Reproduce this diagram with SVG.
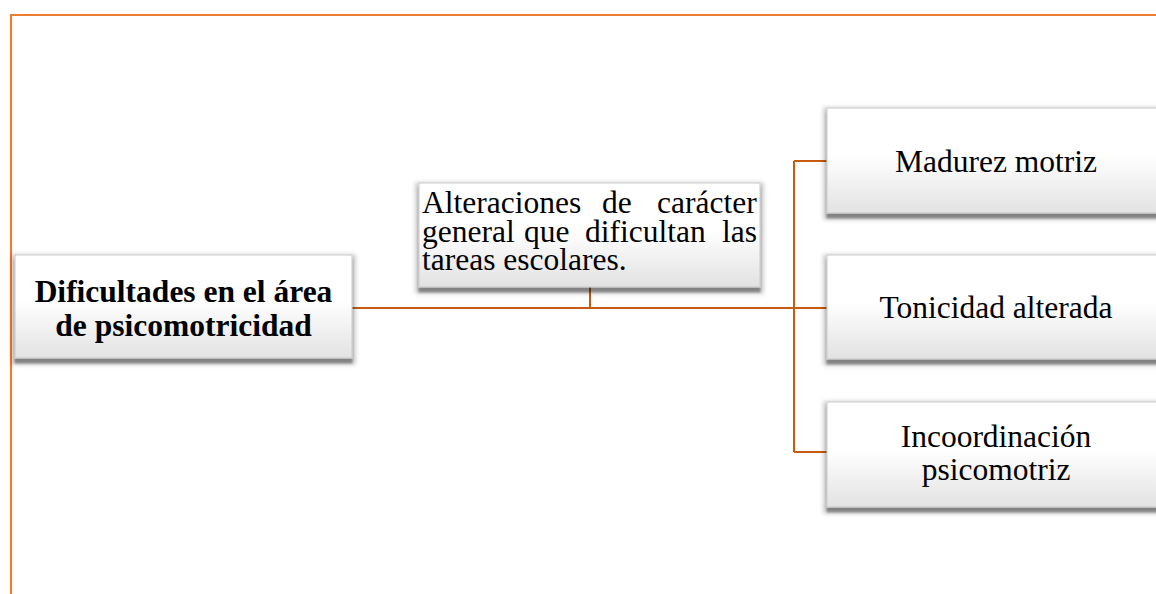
<svg xmlns="http://www.w3.org/2000/svg" width="1156" height="594" viewBox="0 0 1156 594">
<defs>
<linearGradient id="g" x1="0" y1="0" x2="0" y2="1">
<stop offset="0" stop-color="#ffffff"/>
<stop offset="0.45" stop-color="#ffffff"/>
<stop offset="1" stop-color="#e2e2e2"/>
</linearGradient>
<filter id="sh" x="-10%" y="-20%" width="120%" height="150%">
<feMorphology in="SourceAlpha" operator="dilate" radius="3" result="d"/>
<feOffset in="d" dy="3" result="o"/>
<feGaussianBlur in="o" stdDeviation="2" result="b"/>
<feFlood flood-color="#000" flood-opacity="0.22"/>
<feComposite in2="b" operator="in" result="s1"/>
<feOffset in="SourceAlpha" dy="5" result="o2"/>
<feGaussianBlur in="o2" stdDeviation="0.8" result="b2"/>
<feFlood flood-color="#000" flood-opacity="0.35"/>
<feComposite in2="b2" operator="in" result="s2"/>
<feMerge><feMergeNode in="s1"/><feMergeNode in="s2"/><feMergeNode in="SourceGraphic"/></feMerge>
</filter>
</defs>
<style>
.box{fill:url(#g);stroke:#c8c8c8;stroke-width:1;filter:url(#sh)}
.t{font-family:"Liberation Serif","Times New Roman",serif;font-size:31.5px;fill:#000}
.c{text-anchor:middle}
.b{font-weight:bold}
.con{stroke:#c55a11;stroke-width:2;fill:none}
.frame{stroke:#ed7d31;stroke-width:2.2;fill:none}
</style>
<rect width="1156" height="594" fill="#ffffff"/>
<g id="frame">
<path class="frame" d="M11 594 V15 H1156"/>
</g>
<g id="connectors">
<path class="con" d="M352 308 H794"/>
<path class="con" d="M590 287 V308"/>
<path class="con" d="M794 161 V452"/>
<path class="con" d="M794 161 H827"/>
<path class="con" d="M794 308 H827"/>
<path class="con" d="M794 452 H827"/>
</g>
<g id="node-main">
<rect class="box" x="15" y="255" width="337" height="103"/>
<text class="t c b" x="183.5" y="302">Dificultades en el área</text>
<text class="t c b" x="183.5" y="336">de psicomotricidad</text>
</g>
<g id="node-alteraciones">
<rect class="box" x="419" y="183" width="341" height="104"/>
<text class="t" y="213"><tspan x="422">Alteraciones</tspan><tspan x="602">de</tspan><tspan x="657">carácter</tspan></text>
<text class="t" y="242"><tspan x="422">general</tspan><tspan x="524">que</tspan><tspan x="585">dificultan</tspan><tspan x="722">las</tspan></text>
<text class="t" y="270"><tspan x="422">tareas escolares.</tspan></text>
</g>
<g id="node-madurez">
<rect class="box" x="827" y="108" width="338" height="105"/>
<text class="t c" x="996" y="172">Madurez motriz</text>
</g>
<g id="node-tonicidad">
<rect class="box" x="827" y="255" width="338" height="104"/>
<text class="t c" x="996" y="318">Tonicidad alterada</text>
</g>
<g id="node-incoordinacion">
<rect class="box" x="827" y="402" width="338" height="105"/>
<text class="t c" x="996" y="447">Incoordinación</text>
<text class="t c" x="996" y="480">psicomotriz</text>
</g>
</svg>
